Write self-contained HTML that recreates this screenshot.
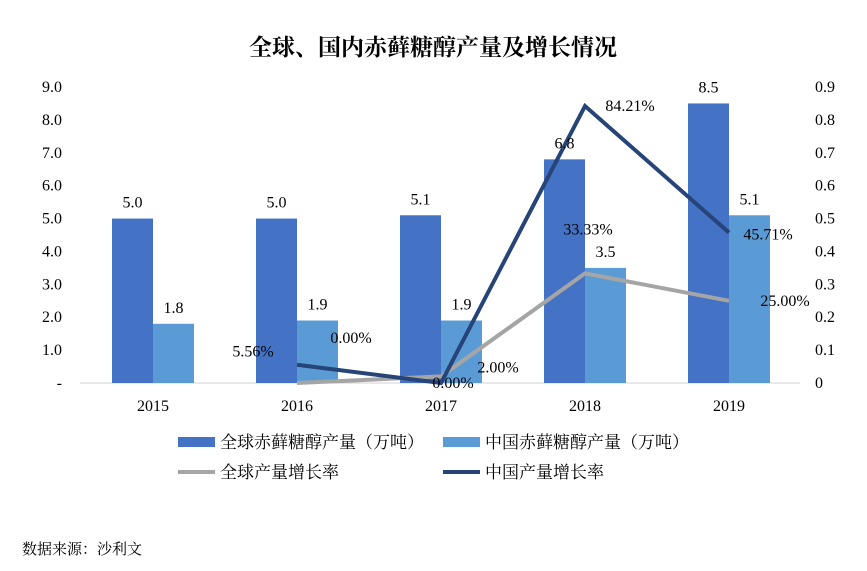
<!DOCTYPE html>
<html><head><meta charset="utf-8"><style>
body{margin:0;background:#fff;}
svg{display:block;font-family:"Liberation Serif","Noto Serif CJK SC",serif;}
</style></head><body>
<svg id="c" width="867" height="571">
<text x="433" y="55" text-anchor="middle" font-size="23" font-weight="bold">全球、国内赤藓糖醇产量及增长情况</text>
<line x1="80" y1="383" x2="800" y2="383" stroke="#d0d0d0" stroke-width="1"/>
<g id="bars"></g><g id="lines"></g><g id="labels"></g><g id="axes"></g>
<g font-size="17" font-family="'Noto Serif CJK SC',serif">
 <rect x="178" y="437" width="37" height="10" fill="#4472C4"/>
 <text x="220" y="448">全球赤藓糖醇产量（万吨）</text>
 <rect x="443" y="437" width="37" height="10" fill="#5B9BD5"/>
 <text x="485" y="448">中国赤藓糖醇产量（万吨）</text>
 <line x1="178" y1="472" x2="215" y2="472" stroke="#A5A5A5" stroke-width="4"/>
 <text x="220" y="478">全球产量增长率</text>
 <line x1="443" y1="472" x2="480" y2="472" stroke="#264478" stroke-width="4"/>
 <text x="485" y="478">中国产量增长率</text>
</g>
<text x="22" y="554" font-size="15" font-family="'Noto Serif CJK SC',serif">数据来源：沙利文</text>
</svg>
<script>
const years=["2015","2016","2017","2018","2019"];
const globalProd=[5.0,5.0,5.1,6.8,8.5];
const chinaProd=[1.8,1.9,1.9,3.5,5.1];
const globalGrowth=[null,0.00,0.02,0.3333,0.25];
const chinaGrowth=[null,0.0556,0.00,0.8421,0.4571];
const leftTicks=["-","1.0","2.0","3.0","4.0","5.0","6.0","7.0","8.0","9.0"];
const rightTicks=["0","0.1","0.2","0.3","0.4","0.5","0.6","0.7","0.8","0.9"];
const NS="http://www.w3.org/2000/svg";
const y0=383,yTop=87;
const yL=v=>y0-(y0-yTop)*v/9;
const yR=v=>y0-(y0-yTop)*v/0.9;
const xC=i=>153+i*144;
const FS=16;
function mk(tag,attrs,parent,txt){const e=document.createElementNS(NS,tag);for(const k in attrs)e.setAttribute(k,attrs[k]);if(txt!=null)e.textContent=txt;document.getElementById(parent).appendChild(e);return e;}
leftTicks.forEach((t,i)=>{const e=mk("text",{x:62,y:yL(i)+5,"text-anchor":"end","font-size":FS},"axes",t);

});
rightTicks.forEach((t,i)=>{const e=mk("text",{x:815,y:yR(i/10)+5,"font-size":FS},"axes",t);

});
years.forEach((t,i)=>{const e=mk("text",{x:xC(i),y:411,"text-anchor":"middle","font-size":FS},"axes",t);

});
const bw=41;
years.forEach((t,i)=>{
 let b=mk("rect",{x:xC(i)-bw,y:yL(globalProd[i]),width:bw,height:y0-yL(globalProd[i]),fill:"#4472C4"},"bars");
 
 
 let l=mk("text",{x:xC(i)-bw/2,y:yL(globalProd[i])-11,"text-anchor":"middle","font-size":FS},"labels",globalProd[i].toFixed(1));
 
 
 b=mk("rect",{x:xC(i),y:yL(chinaProd[i]),width:bw,height:y0-yL(chinaProd[i]),fill:"#5B9BD5"},"bars");
 
 
 l=mk("text",{x:xC(i)+bw/2,y:yL(chinaProd[i])-11,"text-anchor":"middle","font-size":FS},"labels",chinaProd[i].toFixed(1));
 
 
});
function line(vals,color,name,offs){
 const pts=[];vals.forEach((v,i)=>{if(v!=null)pts.push([xC(i),yR(v),v,i]);});
 const p=mk("polyline",{points:pts.map(q=>q[0]+","+q[1]).join(" "),fill:"none",stroke:color,"stroke-width":4,"stroke-linejoin":"miter"},"lines");
 
 
 pts.forEach(q=>{const o=offs[q[3]];
  const t=mk("text",{x:q[0]+o[0],y:q[1]+o[1]+5,"text-anchor":"middle","font-size":FS},"labels",(q[2]*100).toFixed(2)+"%");
  
  });
}
line(globalGrowth,"#A5A5A5","global-growth-line",[null,[54,-45],[57,-9],[3,-44],[56,0]]);
line(chinaGrowth,"#264478","china-growth-line",[null,[-44,-13],[12,0],[45,0],[39,2]]);
</script>
</body></html>
